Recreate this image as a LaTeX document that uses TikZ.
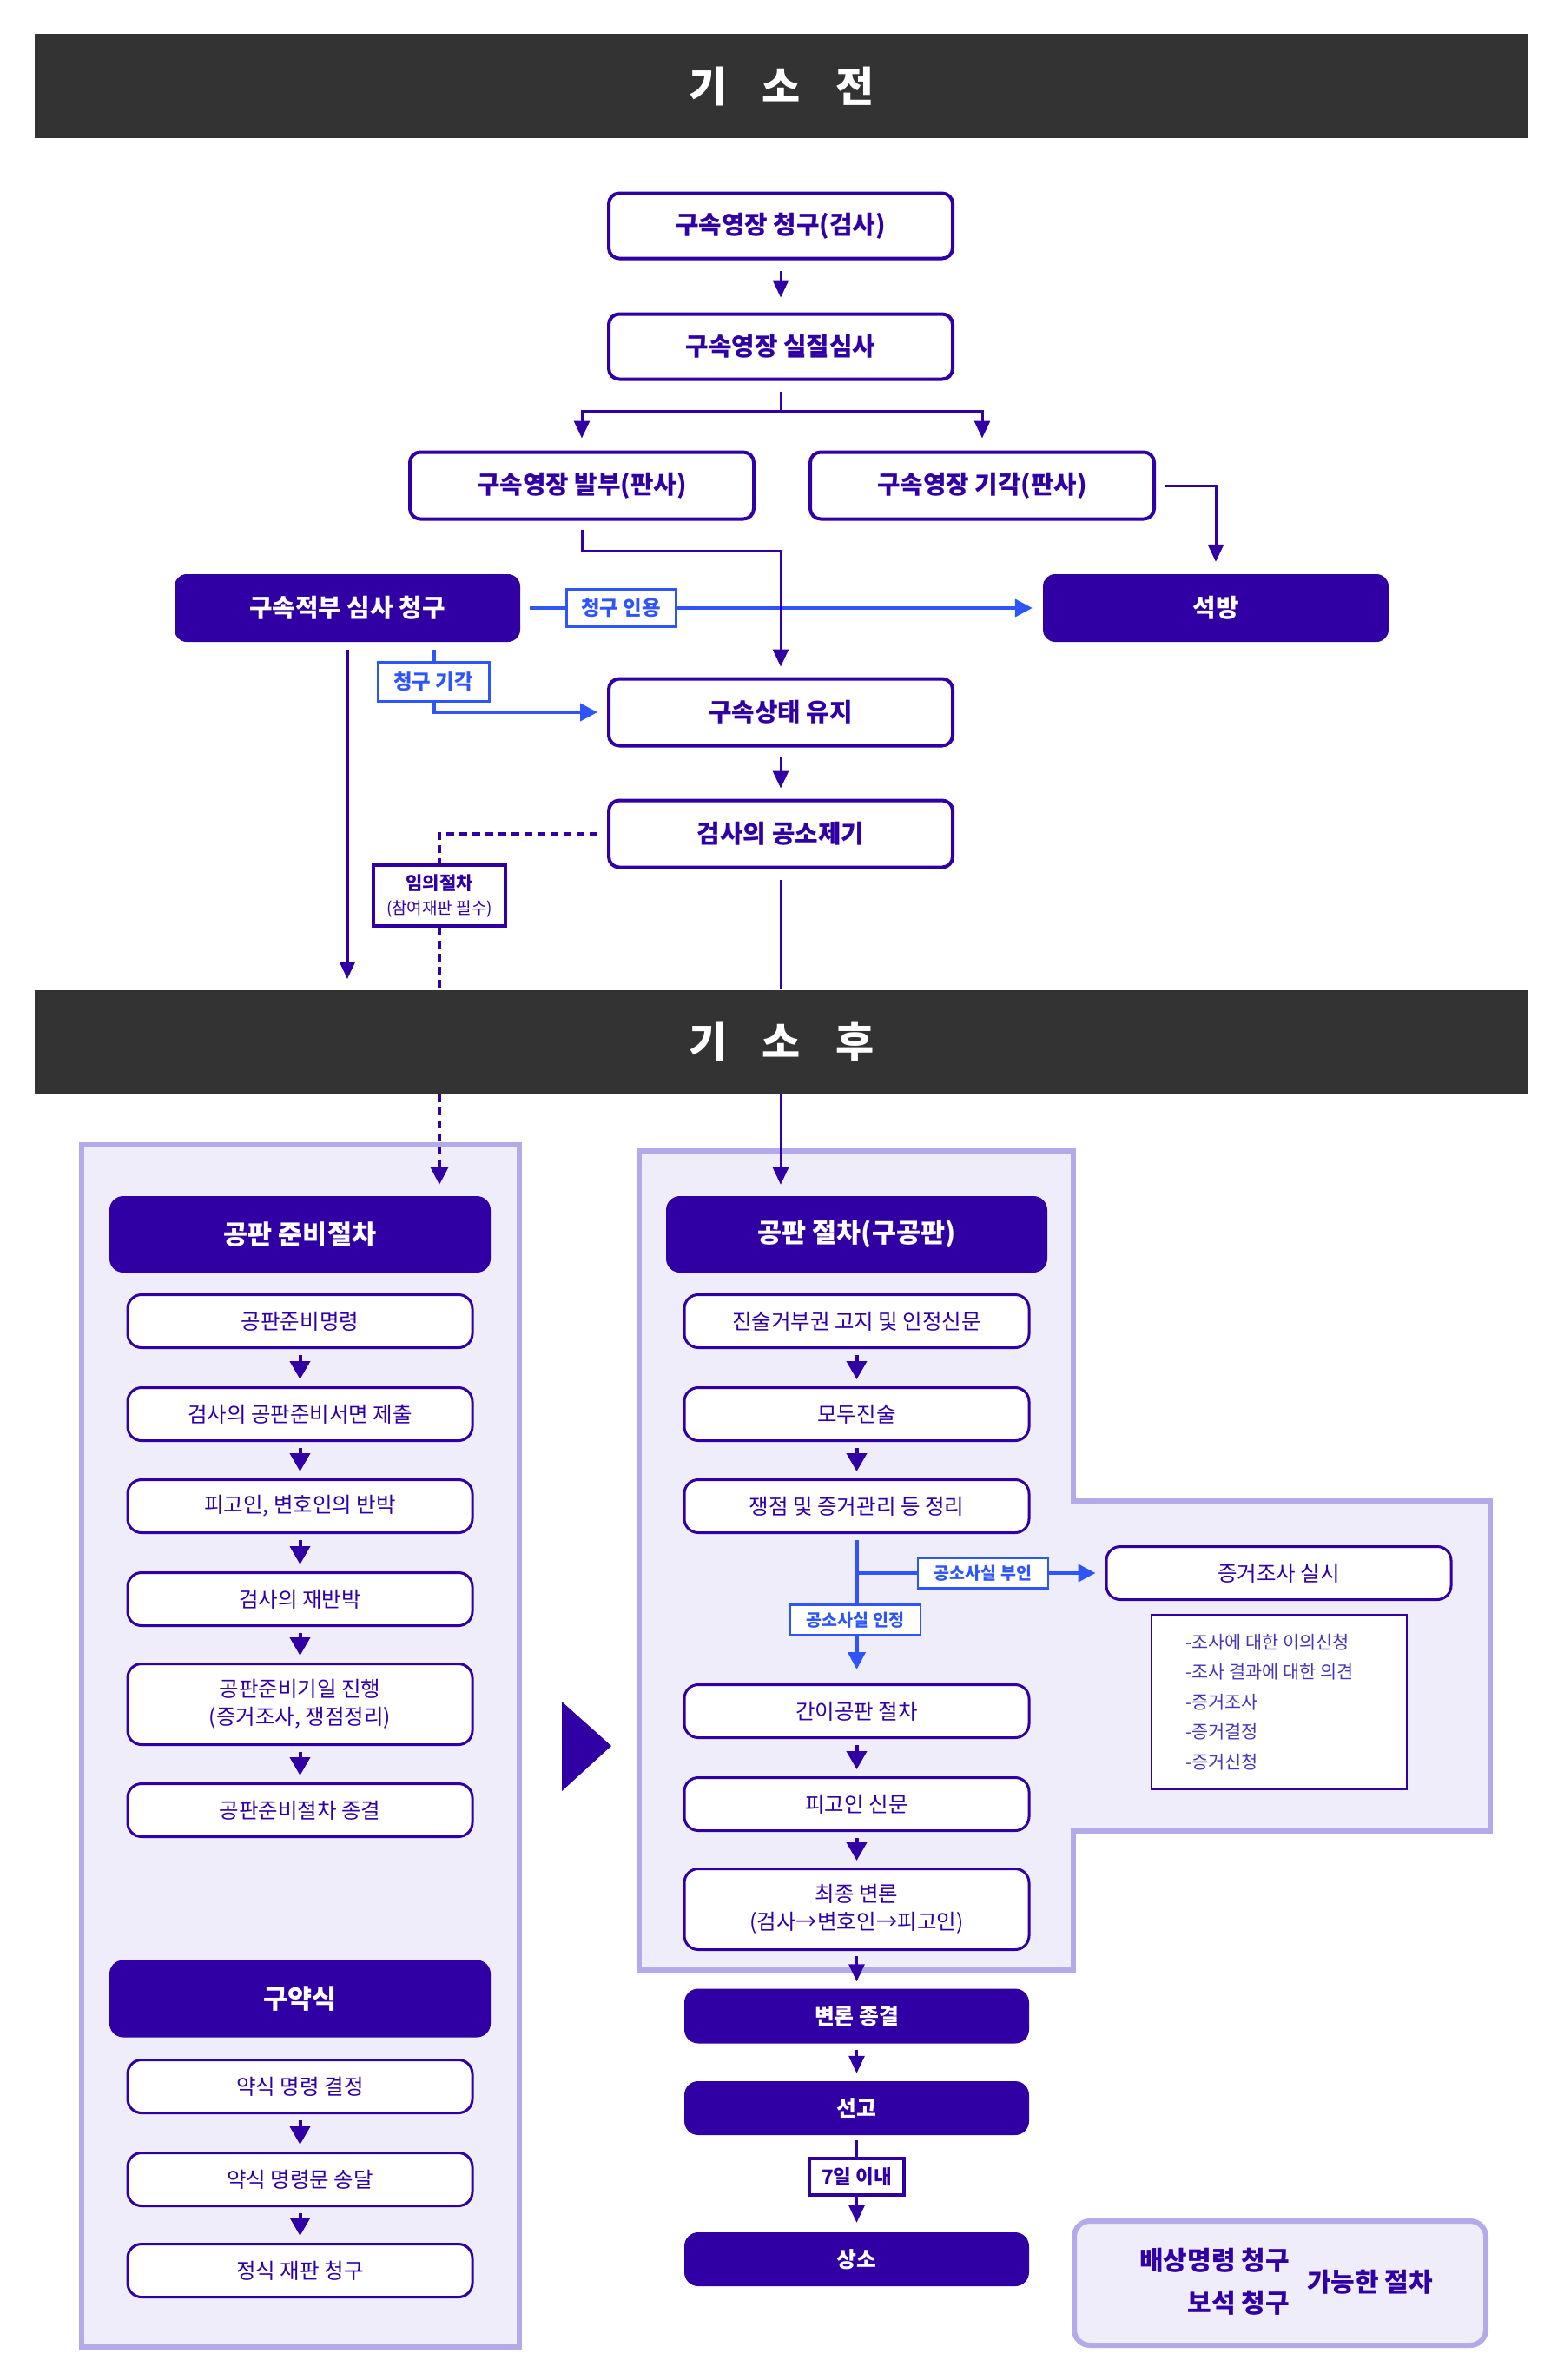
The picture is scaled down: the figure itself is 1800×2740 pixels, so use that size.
\documentclass[tikz,border=0pt]{standalone}
\usepackage{fontspec}
\setmainfont{Noto Sans CJK KR}
\usetikzlibrary{arrows.meta,calc}
\definecolor{pp}{HTML}{3100A5}
\definecolor{bl}{HTML}{2E55FA}
\definecolor{ban}{HTML}{333333}
\definecolor{pfill}{HTML}{EFEDFA}
\definecolor{pbord}{HTML}{B3AAEA}
\definecolor{notec}{HTML}{4A35B5}
\begin{document}
\begin{tikzpicture}[x=1pt,y=-1pt,
  banner/.style={fill=ban,minimum width=1720pt,minimum height=120pt,inner sep=0pt,text=white,font=\fontsize{48}{56}\selectfont\bfseries},
  tb/.style={draw=pp,line width=4pt,rounded corners=12pt,fill=white,minimum width=396pt,minimum height=75pt,text=pp,font=\fontsize{28.8}{34}\selectfont\bfseries,inner sep=0pt},
  fb/.style={fill=pp,rounded corners=14pt,minimum width=398pt,minimum height=78pt,text=white,font=\fontsize{28.8}{34}\selectfont\bfseries,inner sep=0pt},
  hd/.style={fill=pp,rounded corners=16pt,minimum width=439pt,minimum height=88pt,text=white,font=\fontsize{30.5}{36}\selectfont\bfseries,inner sep=0pt},
  it/.style={draw=pp,line width=3pt,rounded corners=16pt,fill=white,minimum width=397pt,minimum height=61pt,text=pp,font=\fontsize{24.5}{32}\selectfont,align=center,inner sep=0pt},
  itf/.style={fill=pp,rounded corners=16pt,minimum width=397pt,minimum height=62pt,text=white,font=\fontsize{24.8}{30}\selectfont\bfseries,inner sep=0pt},
  conn/.style={draw=pp,line width=3pt,-{Triangle[length=20pt,width=18pt]}},
  sarr/.style={draw=pp,line width=4pt,-{Triangle[length=21pt,width=23pt]}},
  blline/.style={draw=bl,line width=4pt},
  blc/.style={draw=bl,line width=4pt,-{Triangle[length=20pt,width=20pt]}},
  bllab/.style={draw=bl,line width=3pt,fill=white,text=bl,font=\fontsize{23.5}{28}\selectfont\bfseries,minimum width=126pt,minimum height=43pt,inner sep=0pt},
  bllabs/.style={draw=bl,line width=2.5pt,fill=white,text=bl,font=\fontsize{19.5}{24}\selectfont\bfseries,minimum width=150pt,minimum height=35pt,inner sep=0pt},
  pplab/.style={draw=pp,line width=4pt,fill=white,text=pp,inner sep=0pt},
  dashln/.style={draw=pp,line width=3.5pt,dash pattern=on 9pt off 6pt},
  panel/.style={draw=pbord,line width=6pt,fill=pfill}
]
\useasboundingbox (0,0) rectangle (1800,2740);
\fill[white] (0,0) rectangle (1800,2740);

% banners
\node[banner] (ban1) at (900,99.5) {기\hspace{40pt}소\hspace{40pt}전};
\node[banner] (ban2) at (900,1199.5) {기\hspace{40pt}소\hspace{40pt}후};

% top flow
\node[tb] (b1) at (899,260) {구속영장 청구(검사)};
\node[tb] (b2) at (899,399) {구속영장 실질심사};
\node[tb,minimum height=77pt] (fa) at (670,559) {구속영장 발부(판사)};
\node[tb,minimum height=77pt] (gi) at (1131,559) {구속영장 기각(판사)};
\node[fb] (jb) at (400,700) {구속적부 심사 청구};
\node[fb] (sb) at (1400,700) {석방};
\node[tb,minimum height=77pt] (ks) at (899,820) {구속상태 유지};
\node[tb,minimum height=77pt] (gs) at (899,960) {검사의 공소제기};

\draw[conn,shorten <=12pt,shorten >=17pt] (b1.south) -- (b2.north);
\draw[pp,line width=3pt,shorten <=12pt] (b2.south) -- ++(0,35) coordinate (br);
\draw[conn,shorten >=14pt] (br) -| (fa.north);
\draw[conn,shorten >=14pt] (br) -| (gi.north);
\draw[conn,shorten <=11pt,shorten >=14pt] (gi.east) -| (sb.north);

% blue: claim accepted / rejected
\draw[blc,shorten <=11pt,shorten >=12pt] (jb.east) -- (sb.west);
\draw[blc,shorten <=9pt,shorten >=11pt] ($(jb.south)+(100,0)$) |- (ks.west);
\node[bllab] (ly) at (715,700) {청구 인용};
\node[bllab,minimum width=128pt,minimum height=45pt] (lg) at (499,785) {청구 기각};

\draw[conn,shorten <=10pt,shorten >=12pt] (fa.south) -- ++(0,35) -| (ks.north);
\coordinate (lv) at (400,1127);
\draw[conn,shorten <=9pt] (jb.south) -- (lv);
\draw[conn,shorten <=11pt,shorten >=12pt] (ks.south) -- (gs.north);

% optional procedure (dashed)
\node[pplab,minimum width=152pt,minimum height=70pt,align=center,font=\fontsize{20}{28}\selectfont] (imu) at (506,1031)
  {{\bfseries\fontsize{21}{28}\selectfont 임의절차}\\{\fontsize{19}{28}\selectfont (참여재판 필수)}};
\draw[dashln,shorten <=11pt] (gs.west) -| (imu.north);
\draw[dashln] (imu.south) -- (imu.south |- ban2.north);
\draw[pp,line width=3pt,shorten <=12pt] (gs.south) -- (gs.south |- ban2.north);

% panels
\draw[panel] (94,1318) rectangle (598,2702);
\draw[panel] (736,1325) -- (1236,1325) -- (1236,1728) -- (1716,1728) -- (1716,2108) -- (1236,2108) -- (1236,2268) -- (736,2268) -- cycle;

% left panel
\node[hd] (lh) at (345.5,1421) {공판 준비절차};
\node[it] (l1) at (345.5,1521) {공판준비명령};
\node[it] (l2) at (345.5,1628) {검사의 공판준비서면 제출};
\node[it] (l3) at (345.5,1734) {피고인, 변호인의 반박};
\node[it] (l4) at (345.5,1841) {검사의 재반박};
\node[it,minimum height=93pt] (l5) at (345.5,1962) {공판준비기일 진행\\(증거조사, 쟁점정리)};
\node[it] (l6) at (345.5,2084) {공판준비절차 종결};
\foreach \a/\b in {l1/l2,l2/l3,l3/l4,l4/l5,l5/l6}
  \draw[sarr,shorten <=7pt,shorten >=8pt] (\a.south) -- (\b.north);

\node[hd,minimum height=89pt] (lh2) at (345.5,2301) {구약식};
\node[it] (j1) at (345.5,2402) {약식 명령 결정};
\node[it] (j2) at (345.5,2509) {약식 명령문 송달};
\node[it] (j3) at (345.5,2614) {정식 재판 청구};
\foreach \a/\b in {j1/j2,j2/j3}
  \draw[sarr,shorten <=7pt,shorten >=8pt] (\a.south) -- (\b.north);

\draw[dashln,-{Triangle[length=20pt,width=20pt]},shorten >=13pt] (imu.south |- ban2.south) -- (imu.south |- lh.north);

% big arrow between panels
\fill[pp] (647,1959) -- (704,2010) -- (647,2062) -- cycle;

% right panel
\node[hd] (rh) at (986.5,1421) {공판 절차(구공판)};
\draw[conn,shorten >=13pt] (gs.south |- ban2.south) -- (gs.south |- rh.north);
\node[it] (r1) at (986.5,1521) {진술거부권 고지 및 인정신문};
\node[it] (r2) at (986.5,1628) {모두진술};
\node[it] (r3) at (986.5,1734) {쟁점 및 증거관리 등 정리};
\node[it] (r4) at (986.5,1970) {간이공판 절차};
\node[it] (r5) at (986.5,2077) {피고인 신문};
\node[it,minimum height=93pt] (r6) at (986.5,2198) {최종 변론\\(검사→변호인→피고인)};
\foreach \a/\b in {r1/r2,r2/r3,r4/r5,r5/r6}
  \draw[sarr,shorten <=7pt,shorten >=8pt] (\a.south) -- (\b.north);

\node[it] (ev) at (1472.5,1811) {증거조사 실시};
\coordinate (bp) at (986.5,1811);
\draw[blline,shorten <=7pt] (r3.south) -- (bp);
\draw[blc,shorten >=16pt] (bp) -- (r4.north);
\draw[blc,shorten >=11pt] (bp) -- (ev.west);
\node[bllabs] (lb1) at (1132,1811) {공소사실 부인};
\node[bllabs] (lb2) at (985,1865) {공소사실 인정};

\node[draw=pp,line width=1.5pt,fill=white,minimum width=294pt,minimum height=201pt,inner sep=0pt] (nt) at (1473,1959.5) {};
\node[anchor=west,align=left,text=notec,font=\fontsize{20.8}{34.5}\selectfont,inner sep=0pt] (ntx) at (1365,1959.5)
  {-조사에 대한 이의신청\\-조사 결과에 대한 의견\\-증거조사\\-증거결정\\-증거신청};

% bottom flow
\node[itf,minimum height=63pt] (e1) at (986.5,2321) {변론 종결};
\node[itf] (e2) at (986.5,2427) {선고};
\node[itf] (e3) at (986.5,2601) {상소};
\draw[conn,shorten <=6pt,shorten >=8pt] (r6.south) -- (e1.north);
\draw[conn,shorten <=7pt,shorten >=9pt] (e1.south) -- (e2.north);
\draw[conn,shorten <=6pt,shorten >=11pt] (e2.south) -- (e3.north);
\node[pplab,minimum width=109pt,minimum height=42pt,font=\fontsize{22.5}{26}\selectfont\bfseries] (d7) at (986.5,2506) {7일 이내};

% possible procedures box
\node[draw=pbord,line width=6pt,fill=pfill,rounded corners=18pt,minimum width=474pt,minimum height=143pt,inner sep=0pt] (pb) at (1474,2628.5) {};
\node[anchor=east,text=pp,font=\fontsize{30}{34}\selectfont\bfseries,inner sep=0pt] (p1) at (1485,2602) {배상명령 청구};
\node[anchor=east,text=pp,font=\fontsize{30}{34}\selectfont\bfseries,inner sep=0pt] (p2) at (1485,2651) {보석 청구};
\node[anchor=west,text=pp,font=\fontsize{30}{34}\selectfont\bfseries,inner sep=0pt] (p3) at (1505,2627) {가능한 절차};
\end{tikzpicture}
\end{document}
